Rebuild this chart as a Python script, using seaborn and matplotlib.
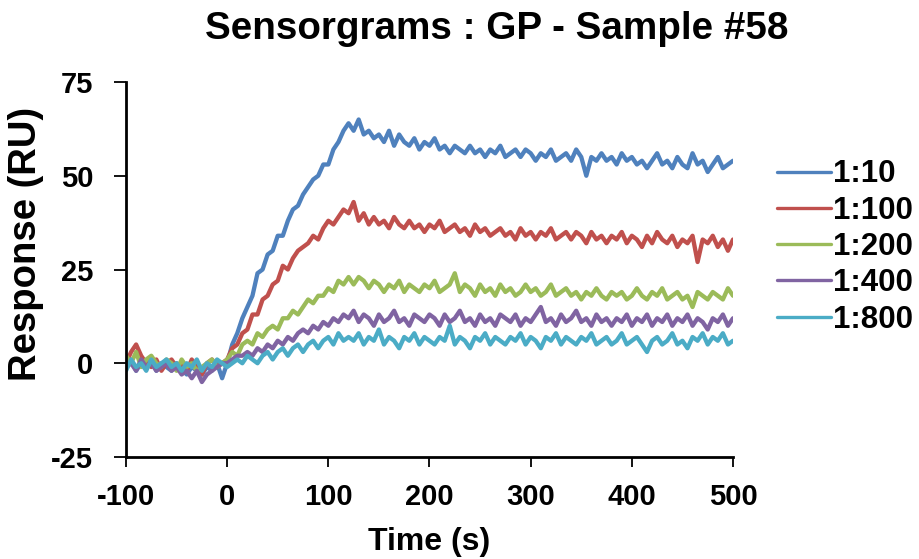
import numpy as np
import pandas as pd
import matplotlib
matplotlib.use("Agg")
import matplotlib.pyplot as plt
import seaborn as sns

# sampling grid (s)
times = np.arange(-100, 505, 5)

dilutions = ["1:10", "1:100", "1:200", "1:400", "1:800"]
colors = ["#4F81BD", "#C0504D", "#9BBB59", "#8064A2", "#4BACC6"]

# response (RU), every 5 s
resp_1_10 = [
    -1, 1, -2, 0, -1, 1, -2, 0, -1, -2, 0, -1, -3, -1, -2, -3, -1, -2, 0, -4,
    0, 5, 8, 12, 15, 18, 24, 25, 29, 30, 34, 34, 38, 41, 42, 45, 47, 49, 50, 53,
    53, 57, 59, 62, 64,
    62, 65, 61, 62, 60, 61, 59, 62, 58, 61, 59, 58, 60, 57, 59, 58, 60, 57, 58, 56,
    58, 57, 56, 58, 56, 57, 55, 57, 56, 58, 55, 56, 57, 55, 57, 56, 54, 56, 55, 57,
    54, 55, 56, 54, 57, 55, 50, 55, 54, 56, 54, 55, 53, 56, 54, 55, 53, 54, 52, 54,
    56, 53, 54, 52, 55, 53, 52, 56, 53, 54, 51, 53, 55, 52, 53, 54,
]
resp_1_100 = [
    0, 3, 5, 2, 0, -1, 1, -2, 0, 1, -1, 0, -2, 1, -1, -3, 0, 1, -1, 0,
    1, 4, 5, 8, 9, 13, 13, 17, 18, 21, 22, 26, 25, 28, 30, 31, 32, 34, 33, 36,
    38, 37, 39, 41, 40,
    43, 38, 40, 37, 39, 37, 38, 36, 39, 37, 36, 38, 36, 37, 35, 37, 36, 38, 35, 36,
    37, 35, 36, 34, 37, 35, 36, 34, 35, 36, 34, 35, 33, 36, 34, 35, 33, 35, 34, 36,
    33, 34, 35, 33, 35, 34, 32, 35, 33, 34, 32, 34, 33, 35, 32, 34, 33, 31, 34, 32,
    35, 33, 32, 34, 31, 33, 32, 34, 27, 33, 32, 34, 31, 33, 30, 33,
]
resp_1_200 = [
    2, 0, 3, -1, 1, 2, 0, -1, 1, 0, -2, 1, -1, 0, -2, -1, 0, 1, -1, 0,
    1, 3, 2, 5, 6, 5, 8, 7, 9, 10, 9, 12, 12, 14, 13, 15, 17, 16, 18, 18,
    20, 19, 22, 21, 23,
    21, 23, 22, 20, 22, 21, 19, 21, 20, 22, 19, 21, 20, 19, 21, 20, 22, 19, 20, 21,
    24, 19, 21, 20, 18, 21, 19, 20, 18, 21, 19, 20, 18, 19, 21, 19, 20, 18, 19, 21,
    18, 19, 20, 18, 19, 17, 19, 18, 20, 18, 17, 19, 18, 19, 17, 18, 20, 18, 17, 19,
    18, 20, 17, 18, 19, 17, 18, 15, 19, 18, 17, 19, 18, 17, 20, 18,
]
resp_1_400 = [
    -1, 0, -2, 1, -1, 0, -2, -1, 0, -2, -1, -3, -2, -4, -2, -5, -3, -2, -1, 0,
    0, 1, 2, 2, 3, 2, 4, 3, 5, 4, 6, 5, 7, 6, 8, 9, 8, 10, 9, 11,
    10, 12, 11, 13, 12,
    14, 11, 13, 12, 10, 13, 11, 12, 14, 11, 12, 10, 13, 12, 11, 13, 12, 10, 13, 11,
    12, 14, 11, 12, 10, 13, 11, 12, 10, 13, 12, 11, 13, 10, 12, 11, 13, 15, 11, 12,
    10, 13, 11, 12, 14, 11, 12, 10, 13, 11, 12, 10, 12, 11, 13, 10, 12, 11, 13, 10,
    12, 11, 13, 10, 12, 11, 13, 10, 12, 11, 9, 12, 11, 13, 10, 12,
]
resp_1_800 = [
    -2, 1, -1, 0, -2, 1, -1, 0, 1, -1, 0, -2, 0, -1, 1, -2, 0, -1, 1, 0,
    -1, 0, 1, 0, 2, 1, 0, 2, 3, 1, 3, 4, 2, 4, 5, 3, 5, 6, 4, 6,
    7, 5, 8, 6, 7,
    6, 8, 5, 7, 6, 9, 5, 7, 6, 4, 7, 6, 8, 5, 7, 6, 5, 7, 6, 10,
    5, 7, 6, 4, 7, 6, 8, 5, 7, 6, 5, 7, 6, 8, 5, 7, 6, 4, 7, 6,
    8, 5, 7, 6, 5, 7, 6, 8, 5, 6, 7, 5, 6, 8, 5, 6, 7, 5, 3, 6,
    7, 5, 6, 8, 5, 6, 4, 7, 6, 8, 5, 7, 6, 8, 5, 6,
]

series = [resp_1_10, resp_1_100, resp_1_200, resp_1_400, resp_1_800]
frames = []
for name, vals in zip(dilutions, series):
    assert len(vals) == len(times), (name, len(vals))
    frames.append(pd.DataFrame({"time": times, "response": vals, "dilution": name}))
df = pd.concat(frames, ignore_index=True)

sns.set_style("white")
plt.rcParams["font.family"] = ["Liberation Sans", "DejaVu Sans"]
plt.rcParams["font.weight"] = "bold"
plt.rcParams["axes.unicode_minus"] = False
plt.rcParams["text.color"] = "black"
plt.rcParams["axes.labelcolor"] = "black"

fig = plt.figure(figsize=(9.2, 5.59), dpi=100)
ax = fig.add_axes([126 / 920, 1 - 457 / 559, 607 / 920, 375 / 559])

sns.lineplot(data=df, x="time", y="response", hue="dilution", hue_order=dilutions,
             palette=colors, linewidth=3.1, estimator=None, ax=ax)

ax.set_xlim(-100, 500)
ax.set_ylim(-25, 75)
ax.set_xticks(range(-100, 600, 100))
ax.set_yticks([-25, 0, 25, 50, 75])

for side in ["top", "right"]:
    ax.spines[side].set_visible(False)
for side in ["left", "bottom"]:
    ax.spines[side].set_linewidth(2.0)
    ax.spines[side].set_color("black")

ax.tick_params(axis="x", direction="out", length=7, width=1.3, pad=12,
               labelsize=21, colors="black", bottom=True)
ax.tick_params(axis="y", direction="out", length=8.5, width=1.3, pad=15,
               labelsize=21, colors="black", left=True)
for lab in ax.get_xticklabels() + ax.get_yticklabels():
    lab.set_fontweight("bold")

ax.set_xlabel("Time (s)", fontsize=23, fontweight="bold", labelpad=11)
ax.set_ylabel("Response (RU)", fontsize=27.5, fontweight="bold", va="center")
ax.yaxis.set_label_coords((26 - 126) / 607, (457 - 244) / 375)

fig.suptitle("Sensorgrams : GP - Sample #58", x=497 / 920, y=1 - 29 / 559,
             va="center", fontsize=27.8, fontweight="bold")

handles, labels = ax.get_legend_handles_labels()
for h in handles:
    h.set_linewidth(2.4)
ax.legend(handles, labels, loc="center left",
          bbox_to_anchor=(777 / 920, 1 - 247 / 559), bbox_transform=fig.transFigure,
          frameon=False, prop={"size": 22.5, "weight": "bold"},
          handlelength=1.73, handletextpad=0.05, labelspacing=0.2,
          borderpad=0, borderaxespad=0)

fig.savefig("out.png", dpi=100)
